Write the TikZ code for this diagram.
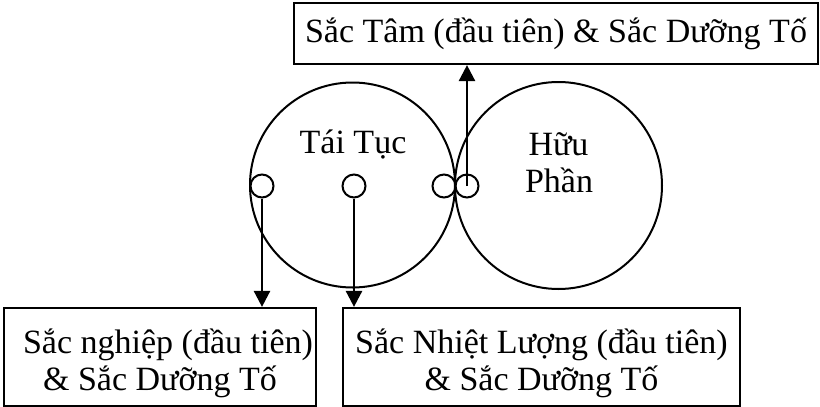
\documentclass[tikz,border=0pt]{standalone}
\usepackage{fontspec}
\setmainfont{Liberation Serif}
\usetikzlibrary{arrows.meta}
\begin{document}
\begin{tikzpicture}[x=1pt,y=-1pt,
  txt/.style={font=\fontsize{34}{37}\selectfont,inner sep=0pt},
  boxnode/.style={draw,line width=2.2pt,rectangle,inner sep=0pt,align=center,txt},
  bigc/.style={draw,line width=2pt,circle,inner sep=0pt,minimum size=#1},
  smallc/.style={draw,line width=2pt,circle,inner sep=0pt,minimum size=23pt},
  arr/.style={line width=2.6pt,-{Triangle[length=16pt,width=16pt]}}]
\useasboundingbox (0,0) rectangle (820,407);
\node[boxnode,minimum width=524pt,minimum height=61pt] (top) at (556,33.5) {Sắc Tâm (đầu tiên) \& Sắc Dưỡng Tố};
\node[bigc=205pt] (c1) at (352.5,185) {};
\node[bigc=207pt] (c2) at (558.5,185.5) {};
\node[smallc] (s1) at (262,186) {};
\node[smallc] (s2) at (354,186) {};
\node[smallc] (s3) at (444,186) {};
\node[smallc] (s4) at (467,186) {};
\node[txt,anchor=base] (t1) at (353,153) {Tái Tục};
\node[txt,anchor=base] (t2) at (558.5,155) {Hữu};
\node[txt,anchor=base] (t3) at (559,192) {Phần};
\node[boxnode,minimum width=312pt,minimum height=98pt] (b1) at (160,357) {};
\node[boxnode,minimum width=397pt,minimum height=98pt] (b2) at (541.5,357) {};
\node[txt,anchor=base] (l1a) at (168,353) {Sắc nghiệp (đầu tiên)};
\node[txt,anchor=base] (l1b) at (160,390) {\& Sắc Dưỡng Tố};
\node[txt,anchor=base] (l2a) at (541.5,353) {Sắc Nhiệt Lượng (đầu tiên)};
\node[txt,anchor=base] (l2b) at (541.5,390) {\& Sắc Dưỡng Tố};
\draw[arr] (s1.south) -- (s1.south |- b1.north);
\draw[arr] (s2.south) -- (s2.south |- b2.north);
\draw[arr] (s4.center) -- (s4.center |- top.south);
\end{tikzpicture}
\end{document}
